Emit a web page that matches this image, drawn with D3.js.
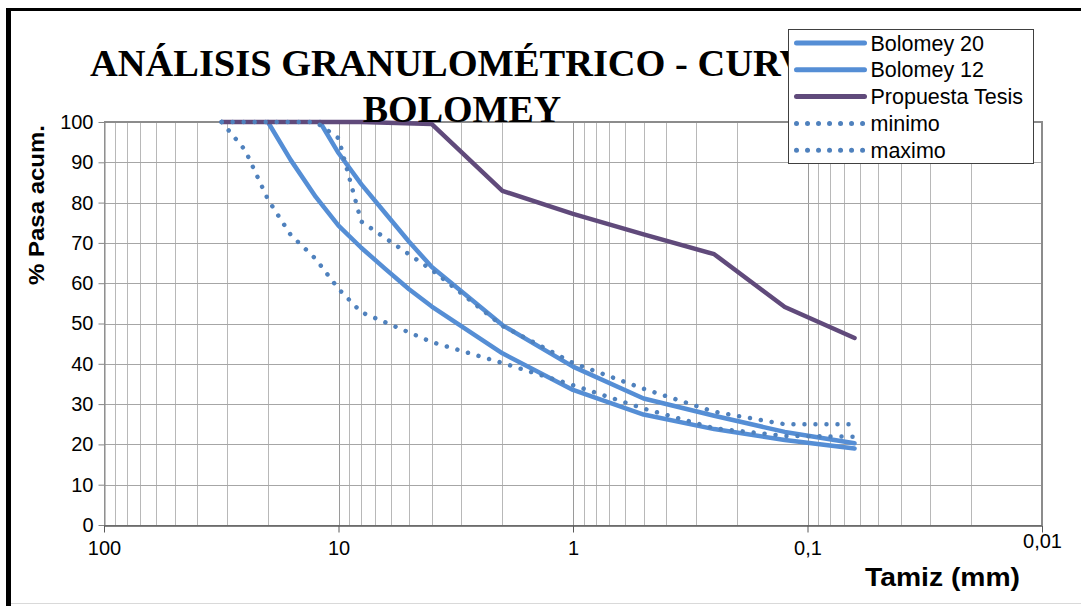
<!DOCTYPE html>
<html>
<head>
<meta charset="utf-8">
<script src="https://cdn.jsdelivr.net/npm/d3@7"></script>
<style>
  html, body { margin: 0; padding: 0; background: #fff; }
  svg { display: block; }
</style>
</head>
<body>
<div id="chart"></div>
<script>
// sieve sizes (mm) and % passing
const b20Size = [20, 16, 12.5, 10, 8, 6.3, 5, 4, 2, 1, 0.5, 0.25, 0.125, 0.063];
const b20Pass = [100, 90.6, 81.4, 74.3, 68.8, 63.5, 58.5, 54.2, 42.6, 33.5, 27.4, 23.8, 21.1, 19.0];

const b12Size = [12, 10, 8, 6.3, 5, 4, 2, 1, 0.5, 0.25, 0.125, 0.063];
const b12Pass = [100, 92.3, 84.6, 77.3, 70.3, 64.0, 49.6, 39.3, 31.4, 27.1, 23.1, 20.3];

const tesisSize = [31.5, 16, 8, 4, 2, 1, 0.5, 0.25, 0.125, 0.063];
const tesisPass = [100, 100, 100, 99.5, 82.9, 77.2, 72.1, 67.2, 54.1, 46.4];

const minSize = [31.5, 25, 20, 16, 12.5, 10, 8, 4, 2, 1, 0.5, 0.25, 0.125, 0.063];
const minPass = [100, 93, 80.8, 72, 66, 58.6, 52.8, 45.4, 40.2, 34.7, 28.9, 24.0, 22.1, 21.9];

const maxSize = [31.5, 12.5, 10, 8, 4, 2, 1, 0.5, 0.25, 0.125, 0.063];
const maxPass = [100, 100, 96, 75.3, 63.3, 49.4, 40.2, 33.8, 28.1, 25.0, 25.0];

const xTicks = [100, 10, 1, 0.1, 0.01];
const xTickLabels = ["100", "10", "1", "0,1", "0,01"];
const yTicks = d3.range(0, 101, 10);

const series = [
  { name: "Bolomey 20", size: b20Size, pass: b20Pass, color: "#558ed5", dotted: false },
  { name: "Bolomey 12", size: b12Size, pass: b12Pass, color: "#558ed5", dotted: false },
  { name: "Propuesta Tesis", size: tesisSize, pass: tesisPass, color: "#604a7b", dotted: false },
  { name: "minimo", size: minSize, pass: minPass, color: "#4f81bd", dotted: true },
  { name: "maximo", size: maxSize, pass: maxPass, color: "#4f81bd", dotted: true }
];

const W = 1081, H = 606;
const plot = { left: 104, right: 1042, top: 122, bottom: 525 };
const sans = "Liberation Sans, Arial, sans-serif";

const svg = d3.select("#chart").append("svg")
  .attr("width", W)
  .attr("height", H);

// outer frame (cropped at right / bottom)
svg.append("line").attr("x1", 6).attr("x2", W).attr("y1", 9.5).attr("y2", 9.5)
  .attr("stroke", "#000").attr("stroke-width", 3);
svg.append("line").attr("x1", 8.5).attr("x2", 8.5).attr("y1", 8).attr("y2", H)
  .attr("stroke", "#000").attr("stroke-width", 5);
svg.append("line").attr("x1", 11).attr("x2", W).attr("y1", 603.5).attr("y2", 603.5)
  .attr("stroke", "#d9d9d9").attr("stroke-width", 1);

const x = d3.scaleLog().domain([100, 0.01]).range([plot.left, plot.right]);
const y = d3.scaleLinear().domain([0, 100]).range([plot.bottom, plot.top]);

const crisp = v => Math.round(v) + 0.5;

// vertical log gridlines (majors + minors)
const vGrid = [];
for (let e = -2; e < 2; e++) {
  for (let m = 1; m < 10; m++) vGrid.push(m * Math.pow(10, e));
}
vGrid.push(100);

svg.append("g")
  .selectAll("line")
  .data(vGrid)
  .enter()
  .append("line")
  .attr("x1", d => crisp(x(d)))
  .attr("x2", d => crisp(x(d)))
  .attr("y1", plot.top)
  .attr("y2", plot.bottom)
  .attr("stroke", d => xTicks.includes(+d.toPrecision(3)) ? "#9a9a9a" : "#b8b8b8")
  .attr("stroke-width", 1);

// horizontal gridlines
svg.append("g")
  .selectAll("line")
  .data(yTicks)
  .enter()
  .append("line")
  .attr("x1", plot.left)
  .attr("x2", plot.right)
  .attr("y1", d => crisp(y(d)))
  .attr("y2", d => crisp(y(d)))
  .attr("stroke", "#a6a6a6")
  .attr("stroke-width", 1);

// plot border top / right
svg.append("line").attr("x1", plot.left).attr("x2", plot.right + 1)
  .attr("y1", plot.top).attr("y2", plot.top)
  .attr("stroke", "#8c8c8c").attr("stroke-width", 2);
svg.append("line").attr("x1", plot.right).attr("x2", plot.right)
  .attr("y1", plot.top).attr("y2", plot.bottom)
  .attr("stroke", "#8c8c8c").attr("stroke-width", 2);

// y axis
const yAxis = svg.append("g")
  .attr("transform", `translate(${crisp(plot.left)},0)`)
  .call(d3.axisLeft(y).tickValues(yTicks).tickSize(6).tickSizeOuter(0).tickPadding(5));
yAxis.select(".domain").attr("stroke", "#868686");
yAxis.selectAll(".tick line").attr("stroke", "#868686");
yAxis.selectAll("text")
  .attr("font-family", sans)
  .attr("font-size", 20)
  .attr("fill", "#000");

// x axis
const xAxis = svg.append("g")
  .attr("transform", `translate(0,${crisp(plot.bottom)})`)
  .call(d3.axisBottom(x).tickValues(xTicks).tickFormat((d, i) => xTickLabels[i])
    .tickSize(7).tickSizeOuter(0).tickPadding(8));
xAxis.select(".domain").attr("stroke", "#595959").attr("stroke-width", 1.5);
xAxis.selectAll(".tick line").attr("stroke", "#595959");
xAxis.selectAll("text")
  .attr("font-family", sans)
  .attr("font-size", 20)
  .attr("fill", "#000");
// last label sits a bit higher in the reference
xAxis.selectAll(".tick text").filter(d => d === 0.01).attr("dy", "0.35em");

// series
const line = d3.line()
  .x(d => x(d[0]))
  .y(d => y(d[1]));

series.forEach(s => {
  const pts = s.size.map((v, i) => [v, s.pass[i]]);
  svg.append("path")
    .datum(pts)
    .attr("d", line)
    .attr("fill", "none")
    .attr("stroke", s.color)
    .attr("stroke-width", 4.5)
    .attr("stroke-linecap", "round")
    .attr("stroke-linejoin", "round")
    .attr("stroke-dasharray", s.dotted ? "0.01 11" : null);
});

// title (partly hidden behind the legend)
const title = svg.append("text")
  .attr("text-anchor", "middle")
  .attr("font-family", "Liberation Serif, 'Times New Roman', serif")
  .attr("font-weight", "bold")
  .attr("font-size", 38)
  .attr("fill", "#000");
title.append("tspan").attr("x", 460).attr("y", 76)
  .attr("textLength", 740).attr("lengthAdjust", "spacingAndGlyphs")
  .text("ANÁLISIS GRANULOMÉTRICO - CURVA");
title.append("tspan").attr("x", 462).attr("y", 122).text("BOLOMEY");

// axis titles
svg.append("text")
  .attr("transform", "translate(44,205) rotate(-90)")
  .attr("text-anchor", "middle")
  .attr("font-family", sans)
  .attr("font-weight", "bold")
  .attr("font-size", 22)
  .attr("textLength", 160)
  .attr("lengthAdjust", "spacingAndGlyphs")
  .text("% Pasa acum.");

svg.append("text")
  .attr("x", 1020)
  .attr("y", 586)
  .attr("text-anchor", "end")
  .attr("font-family", sans)
  .attr("font-weight", "bold")
  .attr("font-size", 26)
  .attr("textLength", 155)
  .attr("lengthAdjust", "spacingAndGlyphs")
  .text("Tamiz (mm)");

// legend
const lg = svg.append("g").attr("transform", "translate(788.5,29.5)");
lg.append("rect")
  .attr("width", 245)
  .attr("height", 134)
  .attr("fill", "#fff")
  .attr("stroke", "#404040")
  .attr("stroke-width", 1);

const item = lg.selectAll("g.item")
  .data(series)
  .enter()
  .append("g")
  .attr("class", "item")
  .attr("transform", (d, i) => `translate(0,${13.5 + i * 26.8})`);

item.append("line")
  .attr("x1", 8)
  .attr("x2", 76)
  .attr("stroke", d => d.color)
  .attr("stroke-width", 5)
  .attr("stroke-linecap", "round")
  .attr("stroke-dasharray", d => d.dotted ? "0.01 11" : null);

item.append("text")
  .attr("x", 82)
  .attr("dy", "0.35em")
  .attr("font-family", sans)
  .attr("font-size", 21.5)
  .attr("fill", "#000")
  .text(d => d.name);
</script>
</body>
</html>
